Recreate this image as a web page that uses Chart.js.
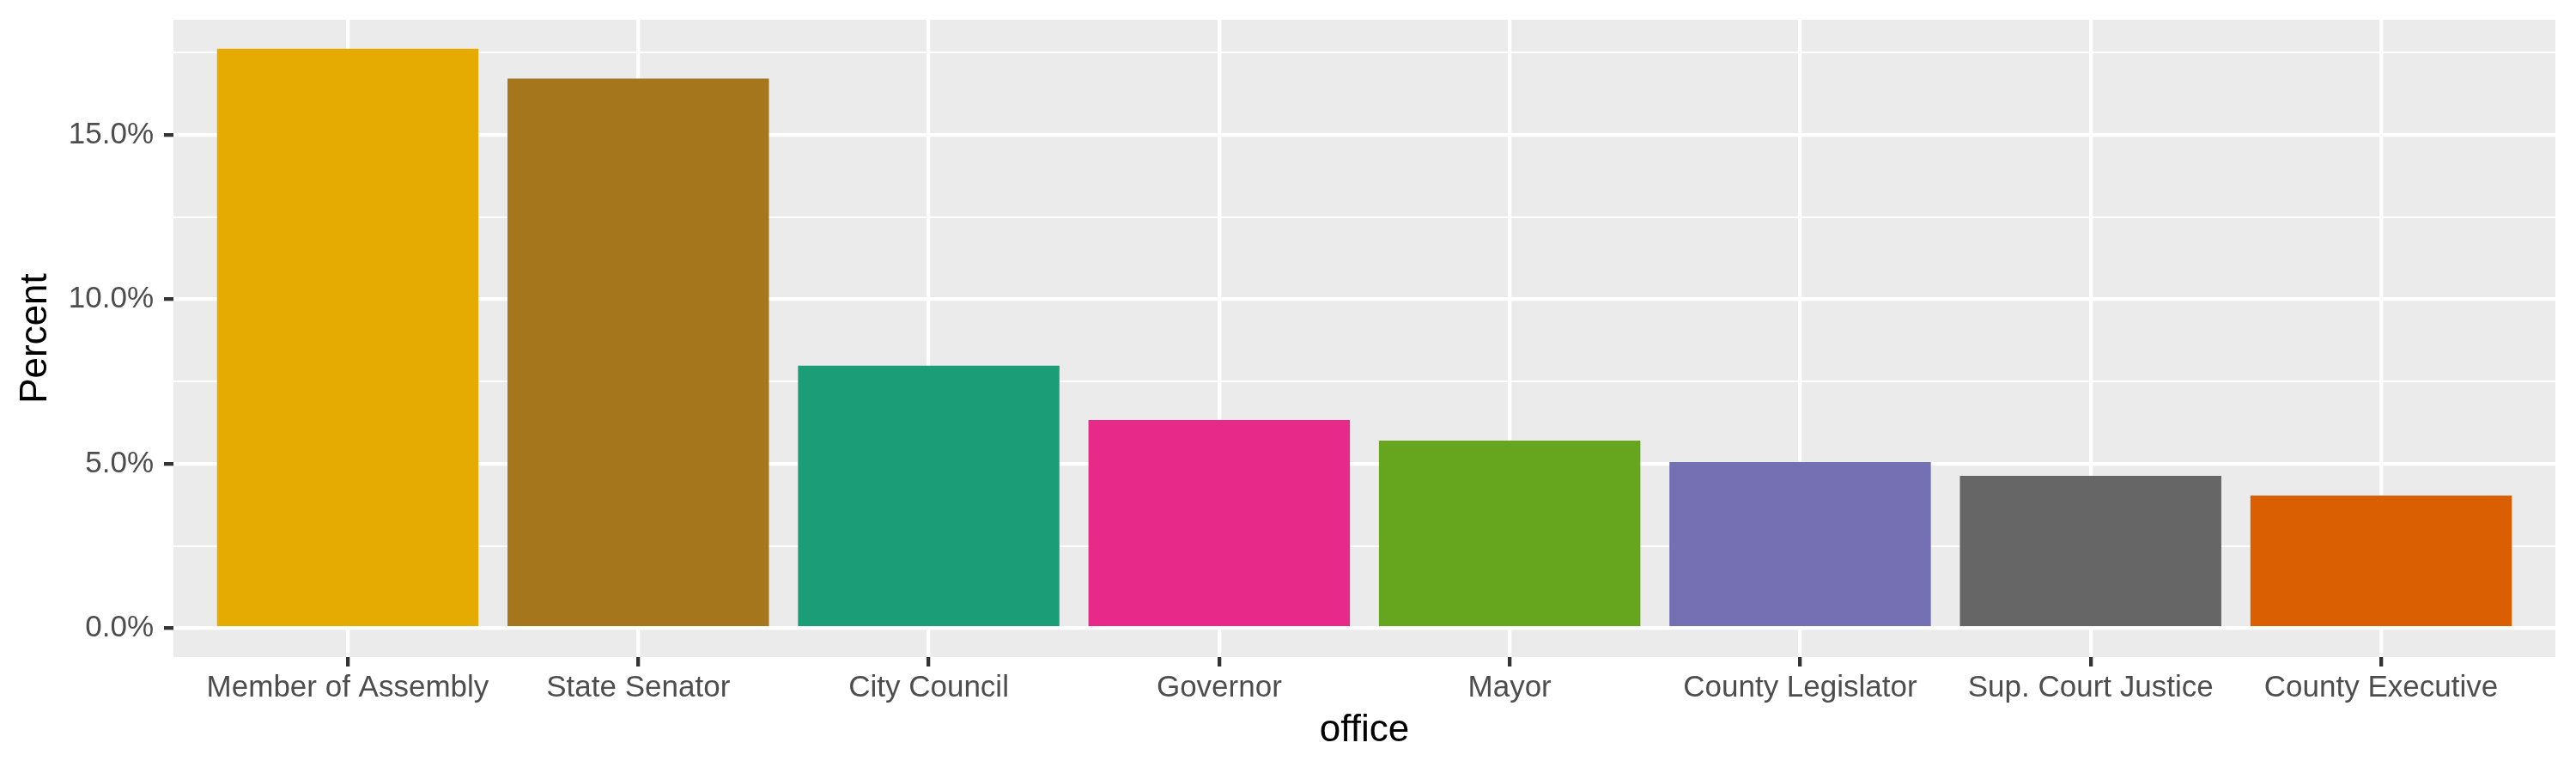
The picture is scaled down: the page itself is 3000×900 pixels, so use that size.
<!DOCTYPE html>
<html>
<head>
<meta charset="utf-8">
<script src="https://cdn.jsdelivr.net/npm/chart.js@4/dist/chart.umd.min.js"></script>
<style>
  html, body { margin: 0; padding: 0; background: #ffffff; }
  #wrap { width: 3000px; height: 900px; position: relative; }
</style>
</head>
<body>
<div id="wrap"><canvas id="c"></canvas></div>
<script>
// ---- data ----
const categories = ["Member of Assembly", "State Senator", "City Council", "Governor", "Mayor", "County Legislator", "Sup. Court Justice", "County Executive"];
const percents = [17.62, 16.71, 7.98, 6.33, 5.70, 5.05, 4.63, 4.03];
const barColors = ["#E6AB02", "#A6761D", "#1B9E77", "#E7298A", "#66A61E", "#7570B3", "#666666", "#D95F02"];
const yMajorTicks = [0, 5, 10, 15];
const yMinorTicks = [2.5, 7.5, 12.5, 17.5];
const xTitle = "office";
const yTitle = "Percent";

// ---- derived ----
const maxVal = Math.max(...percents);
const yMin = -0.05 * maxVal;
const yMax = maxVal * 1.05;
const yAllTicks = [...yMajorTicks, ...yMinorTicks].sort((a, b) => a - b);
const isMajor = v => yMajorTicks.some(t => Math.abs(t - v) < 1e-9);

const FONT = '"Liberation Sans", Arial, Helvetica, sans-serif';

const panelBg = {
  id: 'panelBg',
  beforeDraw(chart) {
    const { ctx, chartArea: a } = chart;
    ctx.save();
    ctx.fillStyle = '#ffffff';
    ctx.fillRect(0, 0, chart.width, chart.height);
    ctx.fillStyle = '#EBEBEB';
    ctx.fillRect(a.left, a.top, a.right - a.left, a.bottom - a.top);
    ctx.restore();
  }
};

new Chart(document.getElementById('c'), {
  type: 'bar',
  data: {
    datasets: [{
      data: percents.map((v, i) => ({ x: i, y: v })),
      backgroundColor: barColors,
      borderWidth: 0,
      barPercentage: 0.9,
      categoryPercentage: 1.0
    }]
  },
  options: {
    responsive: true,
    maintainAspectRatio: false,
    devicePixelRatio: 1,
    animation: false,
    layout: { padding: { top: 23, right: 24, left: 0, bottom: 0 } },
    plugins: { legend: { display: false }, tooltip: { enabled: false } },
    scales: {
      x: {
        type: 'linear',
        offset: false,
        min: -0.6,
        max: categories.length - 1 + 0.6,
        afterBuildTicks: s => { s.ticks = categories.map((_, i) => ({ value: i })); },
        afterFit: s => { s.height = 135; s.paddingLeft = 0; s.paddingRight = 0; },
        border: { display: false },
        grid: {
          offset: false,
          color: '#ffffff',
          lineWidth: 4.3,
          drawTicks: true,
          tickLength: 11,
          tickWidth: 4.3,
          tickColor: '#333333'
        },
        ticks: {
          autoSkip: false,
          maxRotation: 0,
          minRotation: 0,
          padding: 4,
          color: '#4D4D4D',
          font: { family: FONT, size: 35 },
          callback: v => categories[Math.round(v)] ?? ''
        },
        title: {
          display: true,
          text: xTitle,
          color: '#000000',
          font: { family: FONT, size: 44 },
          padding: { top: 0, bottom: 23 }
        }
      },
      y: {
        type: 'linear',
        min: yMin,
        max: yMax,
        afterBuildTicks: s => { s.ticks = yAllTicks.map(v => ({ value: v })); },
        afterFit: s => { s.width = 202; s.paddingTop = 0; s.paddingBottom = 0; },
        border: { display: false },
        grid: {
          color: '#ffffff',
          lineWidth: c => (c.tick && isMajor(c.tick.value)) ? 4.3 : 2.1,
          drawTicks: true,
          tickLength: 11,
          tickWidth: 4.3,
          tickColor: c => (c.tick && isMajor(c.tick.value)) ? '#333333' : 'rgba(0,0,0,0)'
        },
        ticks: {
          autoSkip: false,
          padding: 12,
          color: '#4D4D4D',
          font: { family: FONT, size: 35 },
          callback: v => isMajor(v) ? v.toFixed(1) + '%' : ''
        },
        title: {
          display: true,
          text: yTitle,
          color: '#000000',
          font: { family: FONT, size: 44 },
          padding: { top: 15, bottom: 0 }
        }
      }
    }
  },
  plugins: [panelBg]
});
</script>
</body>
</html>
